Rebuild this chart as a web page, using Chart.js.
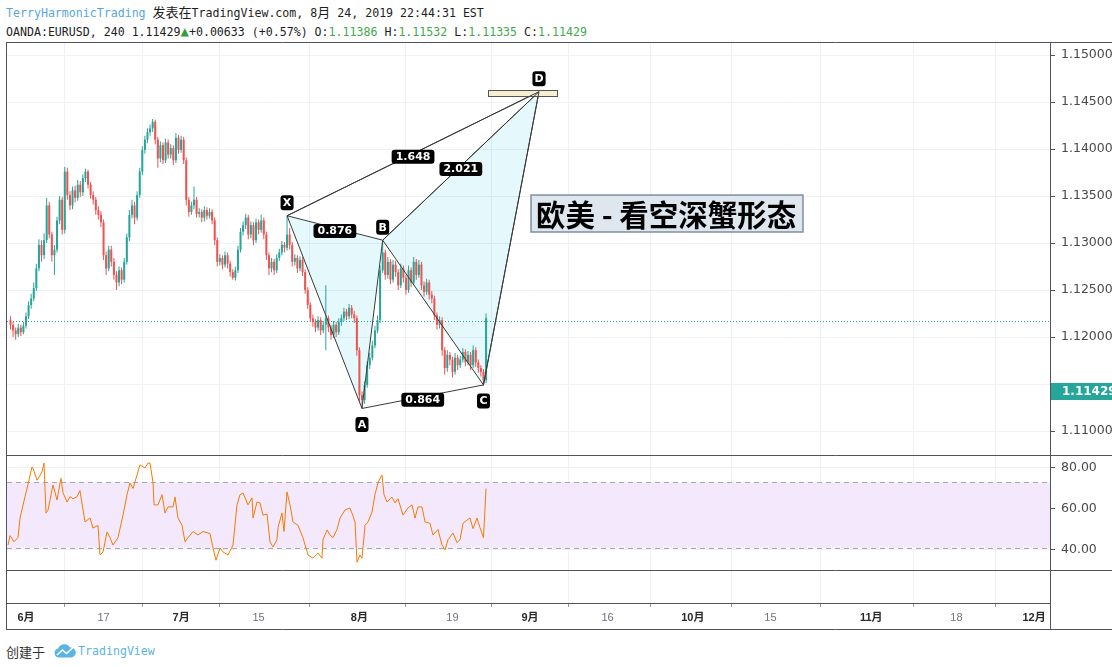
<!DOCTYPE html>
<html lang="zh">
<head>
<meta charset="utf-8">
<title>EURUSD 240 - harmonic</title>
<script src="https://cdn.jsdelivr.net/npm/chart.js@4/dist/chart.umd.min.js"></script>
<style>
  html, body { margin: 0; padding: 0; background: #fff; }
  body { position: relative; width: 1112px; height: 667px; overflow: hidden; }
  .mono {
    position: absolute; left: 6px; white-space: nowrap;
    font-family: "DejaVu Sans Mono", "Noto Sans CJK SC", monospace;
    font-size: 11.6px; line-height: 14px; color: #1e1e1e;
  }
  .mono .cjk { font-size: 13px; }
  #line1 { top: 6px; }
  #line2 { top: 24px; }
  .user { color: #5aa6dc; }
  .up   { color: #2e9e3e; font-size: 14px; }
  .val  { color: #43a84c; }
  #wrap { position: absolute; left: 0; top: 40px; width: 1112px; height: 592px; }
  #foot { position: absolute; left: 6px; top: 641px; height: 18px; white-space: nowrap; }
  #foot .made { font-family: "Noto Sans CJK SC", sans-serif; font-size: 13px; color: #333; vertical-align: middle; }
  #foot svg { vertical-align: middle; margin-left: 5px; }
  #foot .tv { font-family: "DejaVu Sans Mono", monospace; font-size: 11.6px; color: #5ab4e5; vertical-align: middle; margin-left: -2px; }
</style>
</head>
<body>
<div id="line1" class="mono"><span class="user">TerryHarmonicTrading</span> <span class="cjk">发表在</span>TradingView.com, 8<span class="cjk">月</span> 24, 2019 22:44:31 EST</div>
<div id="line2" class="mono">OANDA:EURUSD, 240 1.11429<span class="up">▲</span>+0.00633 (+0.57%) O:<span class="val">1.11386</span> H:<span class="val">1.11532</span> L:<span class="val">1.11335</span> C:<span class="val">1.11429</span></div>
<div id="wrap"><canvas id="chart"></canvas></div>
<div id="foot">
  <span class="made">创建于</span>
  <svg width="22" height="14" viewBox="0 0 22 14">
    <path d="M5 13.5 A4.5 4.5 0 0 1 4.2 4.6 A6.5 6.5 0 0 1 16 3.6 A5 5 0 0 1 17.5 13.5 Z" fill="#5ab4e5"/>
    <path d="M3 11 L8.5 6 L12.5 9.5 L19 3.5" stroke="#fff" stroke-width="1.6" fill="none"/>
  </svg>
  <span class="tv">TradingView</span>
</div>

<script>
/* ── Price data (4h bars grouped by thirds of a trading day) ───────── */
var candleStart = -2.0;      // trading-day index, 0 = 3 June 2019
var candleStep  = 1 / 3;
var firstOpen   = 1.1218;

var closes = [
  1.1213, 1.1207, 1.1203, 1.1210, 1.1205, 1.1212, 1.1222, 1.1234, 1.1241, 1.1252,
  1.1273, 1.1298, 1.1287, 1.1303, 1.1340, 1.1309, 1.1287, 1.1293, 1.1324, 1.1346,
  1.1314, 1.1376, 1.1351, 1.1340, 1.1356, 1.1348, 1.1362, 1.1354, 1.1369, 1.1376,
  1.1362, 1.1351, 1.1346, 1.1335, 1.1330, 1.1322, 1.1287, 1.1273, 1.1293, 1.1280,
  1.1266, 1.1258, 1.1271, 1.1261, 1.1280, 1.1306, 1.1330, 1.1340, 1.1327, 1.1351,
  1.1376, 1.1399, 1.1410, 1.1418, 1.1422, 1.1429, 1.1410, 1.1390, 1.1404, 1.1388,
  1.1407, 1.1394, 1.1401, 1.1388, 1.1412, 1.1399, 1.1410, 1.1388, 1.1346, 1.1333,
  1.1340, 1.1346, 1.1331, 1.1333, 1.1327, 1.1335, 1.1329, 1.1333, 1.1324, 1.1303,
  1.1280, 1.1284, 1.1277, 1.1287, 1.1278, 1.1269, 1.1263, 1.1271, 1.1293, 1.1312,
  1.1319, 1.1327, 1.1309, 1.1319, 1.1303, 1.1322, 1.1314, 1.1324, 1.1309, 1.1287,
  1.1273, 1.1280, 1.1271, 1.1284, 1.1290, 1.1298, 1.1295, 1.1309, 1.1298, 1.1280,
  1.1284, 1.1273, 1.1282, 1.1269, 1.1250, 1.1234, 1.1220, 1.1216, 1.1210, 1.1218,
  1.1207, 1.1213, 1.1220, 1.1210, 1.1202, 1.1213, 1.1205, 1.1216, 1.1220, 1.1227,
  1.1222, 1.1231, 1.1224, 1.1220, 1.1186, 1.1138, 1.1133, 1.1149, 1.1170, 1.1178,
  1.1191, 1.1207, 1.1218, 1.1271, 1.1290, 1.1266, 1.1280, 1.1261, 1.1277, 1.1269,
  1.1255, 1.1273, 1.1263, 1.1250, 1.1271, 1.1258, 1.1280, 1.1266, 1.1277, 1.1255,
  1.1248, 1.1258, 1.1245, 1.1241, 1.1223, 1.1213, 1.1218, 1.1186, 1.1167, 1.1181,
  1.1176, 1.1163, 1.1178, 1.1170, 1.1176, 1.1184, 1.1173, 1.1181, 1.1170, 1.1186,
  1.1173, 1.1167, 1.1163, 1.1154, 1.1220
];
var highs = [
  1.1222, 1.1216, 1.1210, 1.1214, 1.1213, 1.1216, 1.1226, 1.1238, 1.1246, 1.1258,
  1.1278, 1.1304, 1.1303, 1.1310, 1.1348, 1.1344, 1.1312, 1.1298, 1.1328, 1.1350,
  1.1349, 1.1381, 1.1380, 1.1355, 1.1360, 1.1361, 1.1367, 1.1366, 1.1373, 1.1379,
  1.1378, 1.1365, 1.1355, 1.1349, 1.1339, 1.1334, 1.1325, 1.1291, 1.1297, 1.1297,
  1.1284, 1.1270, 1.1275, 1.1274, 1.1284, 1.1310, 1.1335, 1.1346, 1.1344, 1.1355,
  1.1380, 1.1403, 1.1414, 1.1422, 1.1426, 1.1432, 1.1431, 1.1413, 1.1408, 1.1407,
  1.1411, 1.1410, 1.1405, 1.1404, 1.1417, 1.1415, 1.1414, 1.1413, 1.1391, 1.1349,
  1.1344, 1.1360, 1.1349, 1.1337, 1.1336, 1.1339, 1.1338, 1.1337, 1.1336, 1.1327,
  1.1306, 1.1288, 1.1287, 1.1291, 1.1290, 1.1281, 1.1272, 1.1275, 1.1297, 1.1316,
  1.1323, 1.1331, 1.1330, 1.1323, 1.1322, 1.1326, 1.1325, 1.1330, 1.1327, 1.1312,
  1.1290, 1.1284, 1.1283, 1.1288, 1.1294, 1.1302, 1.1301, 1.1329, 1.1316, 1.1301,
  1.1288, 1.1287, 1.1286, 1.1285, 1.1272, 1.1253, 1.1237, 1.1224, 1.1219, 1.1222,
  1.1221, 1.1217, 1.1255, 1.1223, 1.1213, 1.1217, 1.1216, 1.1220, 1.1224, 1.1231,
  1.1230, 1.1235, 1.1234, 1.1228, 1.1223, 1.1189, 1.1142, 1.1153, 1.1174, 1.1183,
  1.1196, 1.1212, 1.1223, 1.1276, 1.1303, 1.1293, 1.1285, 1.1283, 1.1282, 1.1281,
  1.1272, 1.1278, 1.1276, 1.1266, 1.1276, 1.1274, 1.1285, 1.1283, 1.1282, 1.1280,
  1.1259, 1.1262, 1.1261, 1.1249, 1.1244, 1.1226, 1.1222, 1.1221, 1.1189, 1.1186,
  1.1184, 1.1179, 1.1183, 1.1181, 1.1180, 1.1188, 1.1187, 1.1185, 1.1184, 1.1191,
  1.1189, 1.1176, 1.1170, 1.1166, 1.1225
];
var lows = [
  1.1208, 1.1200, 1.1197, 1.1200, 1.1201, 1.1203, 1.1209, 1.1219, 1.1230, 1.1238,
  1.1249, 1.1270, 1.1280, 1.1283, 1.1300, 1.1305, 1.1280, 1.1266, 1.1290, 1.1320,
  1.1309, 1.1310, 1.1346, 1.1335, 1.1336, 1.1343, 1.1345, 1.1349, 1.1350, 1.1365,
  1.1358, 1.1347, 1.1341, 1.1330, 1.1325, 1.1317, 1.1282, 1.1266, 1.1270, 1.1275,
  1.1261, 1.1250, 1.1254, 1.1256, 1.1258, 1.1277, 1.1302, 1.1326, 1.1320, 1.1324,
  1.1348, 1.1372, 1.1395, 1.1406, 1.1414, 1.1418, 1.1405, 1.1380, 1.1386, 1.1384,
  1.1385, 1.1390, 1.1390, 1.1383, 1.1385, 1.1395, 1.1396, 1.1384, 1.1340, 1.1328,
  1.1330, 1.1336, 1.1327, 1.1327, 1.1322, 1.1323, 1.1325, 1.1326, 1.1320, 1.1298,
  1.1275, 1.1276, 1.1272, 1.1274, 1.1273, 1.1264, 1.1261, 1.1260, 1.1268, 1.1290,
  1.1308, 1.1315, 1.1304, 1.1305, 1.1298, 1.1300, 1.1309, 1.1311, 1.1304, 1.1282,
  1.1266, 1.1269, 1.1266, 1.1268, 1.1281, 1.1287, 1.1290, 1.1292, 1.1293, 1.1275,
  1.1276, 1.1268, 1.1270, 1.1265, 1.1246, 1.1230, 1.1216, 1.1211, 1.1205, 1.1207,
  1.1202, 1.1204, 1.1186, 1.1205, 1.1197, 1.1199, 1.1200, 1.1202, 1.1212, 1.1217,
  1.1218, 1.1219, 1.1220, 1.1215, 1.1180, 1.1132, 1.1124, 1.1129, 1.1146, 1.1166,
  1.1175, 1.1188, 1.1204, 1.1215, 1.1268, 1.1261, 1.1262, 1.1256, 1.1258, 1.1264,
  1.1250, 1.1252, 1.1258, 1.1245, 1.1247, 1.1253, 1.1255, 1.1261, 1.1263, 1.1250,
  1.1243, 1.1245, 1.1240, 1.1236, 1.1218, 1.1208, 1.1209, 1.1180, 1.1160, 1.1163,
  1.1170, 1.1157, 1.1160, 1.1165, 1.1167, 1.1173, 1.1169, 1.1170, 1.1165, 1.1167,
  1.1168, 1.1162, 1.1158, 1.1148, 1.1151
];

/* ── RSI pane ──────────────────────────────────────────────────────── */
var rsiT = [
  -2.32, -2.06, -1.55, -1.03, -0.77, -0.13, 0.26, 0.77, 0.90, 1.42, 2.06, 2.32, 2.58, 2.84,
  3.48, 4.00, 4.51, 4.77, 5.29, 5.67, 6.06, 6.58, 6.96, 7.61, 8.25, 8.64, 9.29, 9.54, 9.93,
  10.45, 10.83, 11.22, 11.86, 12.51, 13.03, 13.41, 13.80, 14.32, 14.70, 15.35, 15.73, 15.99,
  16.38, 16.51, 17.02, 17.54, 17.93, 18.31, 18.96, 19.22, 19.60, 20.12, 20.51, 20.89, 21.54,
  22.18, 22.83, 23.73, 24.12, 24.50, 25.02, 25.41, 26.05, 26.70, 27.21, 27.60, 27.99, 28.63,
  29.15, 29.28, 29.79, 30.18, 30.56, 31.08, 31.47, 31.85, 32.37, 32.50, 33.01, 33.27, 33.66,
  34.05, 34.43, 35.08, 35.72, 36.37, 37.01, 37.66, 38.17, 38.30, 38.82, 39.21, 39.59, 40.11,
  40.50, 41.14, 41.78, 42.17, 42.43, 42.69, 43.07, 43.33, 43.72, 44.11, 44.62, 45.01, 45.40,
  45.91, 46.17, 46.56, 47.20, 47.59, 47.98, 48.62, 49.26, 49.78, 50.17, 50.55, 51.07, 51.46,
  52.10, 52.49, 53.13, 53.65, 54.04, 54.42, 55.07, 55.58, 55.97, 56.36, 56.87, 57.26, 57.65,
  58.16, 58.54, 59.00, 59.33
];
var rsiV = [
  42.4, 47, 44, 46, 55.6, 66, 72, 80.5, 80, 74, 78, 82.4, 58, 59.5,
  71.7, 64.4, 75, 68, 63.4, 66, 65, 66, 69, 53.7, 55.6, 50.7, 52, 37.6, 39,
  48.8, 46, 42.4, 46, 57, 67, 72.7, 70, 76.6, 81.5, 80, 82.4, 82.4,
  73, 62, 62, 67, 58, 61, 61, 65.8, 55.6, 52, 44, 46, 49,
  47.3, 49, 48, 41, 35, 41, 39, 37.6, 42.4, 62, 67, 67.8, 62,
  65.4, 55.6, 63.4, 63, 57, 57.5, 44, 41.5, 45, 51, 58, 49, 68.3,
  62, 53.7, 52, 46, 37.6, 36, 38.5, 36, 45, 49.8, 47.3, 46, 50,
  55.6, 59.5, 60.5, 56.6, 53.7, 34, 37.6, 36, 52, 53.7, 58.5, 67, 73,
  76.6, 67, 63.4, 65.8, 63, 65, 57, 60.5, 62, 55.6, 61, 61, 53.7,
  53, 47.3, 50, 42.4, 40, 45, 48.3, 43.6, 45, 53, 54.6, 55.6, 50.4,
  55.6, 51, 46, 70
];
var rsiBand = [41, 73];

/* ── Axes ──────────────────────────────────────────────────────────── */
var tickDays   = [0, 10, 20, 30, 43, 55, 65, 75, 86, 96, 109, 120, 130];
var tickLabels = ['6月', '17', '7月', '15', '8月', '19', '9月', '16', '10月', '15', '11月', '18', '12月'];
var priceTicks = [1.110, 1.115, 1.120, 1.125, 1.130, 1.135, 1.140, 1.145, 1.150];
var rsiTicks   = [40, 60, 80];

/* ── Harmonic pattern (XABCD) ──────────────────────────────────────── */
var patternNames = ['X', 'A', 'B', 'C', 'D'];
var patternT     = [33.67, 43.33, 46.0, 59.0, 66.16];
var patternP     = [1.1329, 1.1124, 1.1303, 1.1149, 1.1461];
var ratioLegs    = [[0, 2], [1, 3], [2, 4], [0, 4]];
var ratioLabels  = ['0.876', '0.864', '2.021', '1.648'];

var dZone      = { t0: 59.58, t1: 68.48, hi: 1.14628, lo: 1.14564 };
var noteBox    = { t0: 65.13, t1: 100.2, hi: 1.1351, lo: 1.13117, text: '欧美 - 看空深蟹形态' };
var guideLevel = 1.1217;
var lastPrice  = 1.11429;
</script>

<script>
(function () {
  'use strict';

  var UP = '#26a69a', DOWN = '#ef5350', FRAME = '#50535e', GRID = '#eef1f6';

  /* ── Candles built from the arrays above ── */
  var candleT = closes.map(function (c, i) { return candleStart + i * candleStep; });
  var opens   = closes.map(function (c, i) { return i ? closes[i - 1] : firstOpen; });
  var colors  = closes.map(function (c, i) { return c >= opens[i] ? UP : DOWN; });

  function pt(i) { return { x: patternT[i], y: patternP[i] }; }
  function isMonth(i) { return (tickLabels[i] || '').indexOf('月') >= 0; }

  function lineSet(points) {
    return {
      type: 'line', yAxisID: 'y', data: points, order: 1,
      borderColor: '#3a3a3a', borderWidth: 1, pointRadius: 0, tension: 0
    };
  }

  var datasets = [
    {
      type: 'bar', yAxisID: 'y', order: 6, grouped: false,
      data: candleT.map(function (t, i) { return { x: t, y: [lows[i], highs[i]] }; }),
      backgroundColor: colors, barThickness: 1, inflateAmount: 0
    },
    {
      type: 'bar', yAxisID: 'y', order: 5, grouped: false,
      data: candleT.map(function (t, i) { return { x: t, y: [opens[i], closes[i]] }; }),
      backgroundColor: colors, barThickness: 2, minBarLength: 1, inflateAmount: 0
    },
    {
      type: 'line', yAxisID: 'rsi', order: 2,
      data: rsiT.map(function (t, i) { return { x: t, y: rsiV[i] }; }),
      borderColor: '#f57c00', borderWidth: 1, pointRadius: 0, tension: 0
    },
    lineSet([pt(0), pt(1), pt(2), pt(3), pt(4)])
  ];
  ratioLegs.forEach(function (leg) { datasets.push(lineSet([pt(leg[0]), pt(leg[1])])); });

  /* ── Helpers for the overlay ── */
  function rounded(ctx, x, y, w, h, r) {
    ctx.beginPath();
    ctx.moveTo(x + r, y);
    ctx.lineTo(x + w - r, y); ctx.quadraticCurveTo(x + w, y, x + w, y + r);
    ctx.lineTo(x + w, y + h - r); ctx.quadraticCurveTo(x + w, y + h, x + w - r, y + h);
    ctx.lineTo(x + r, y + h); ctx.quadraticCurveTo(x, y + h, x, y + h - r);
    ctx.lineTo(x, y + r); ctx.quadraticCurveTo(x, y, x + r, y);
    ctx.closePath();
  }

  function tag(ctx, text, cx, cy, padX, h) {
    ctx.font = 'bold 11px "DejaVu Sans", sans-serif';
    var w = Math.max(ctx.measureText(text).width + padX * 2, h - 2);
    rounded(ctx, cx - w / 2, cy - h / 2, w, h, 3);
    ctx.fillStyle = '#000';
    ctx.fill();
    ctx.fillStyle = '#fff';
    ctx.textAlign = 'center';
    ctx.textBaseline = 'middle';
    ctx.fillText(text, cx, cy + 0.5);
  }

  var overlay = {
    id: 'overlay',
    beforeDatasetsDraw: function (chart) {
      var ctx = chart.ctx, ca = chart.chartArea;
      var sx = chart.scales.x, sy = chart.scales.y, sr = chart.scales.rsi;
      ctx.save();

      // RSI band
      var bTop = sr.getPixelForValue(rsiBand[1]), bBot = sr.getPixelForValue(rsiBand[0]);
      ctx.fillStyle = '#f4e8fd';
      ctx.fillRect(ca.left, bTop, ca.right - ca.left, bBot - bTop);
      ctx.strokeStyle = '#a9a4b6';
      ctx.lineWidth = 1;
      ctx.setLineDash([5, 4]);
      [bTop, bBot].forEach(function (yy) {
        ctx.beginPath();
        ctx.moveTo(ca.left, Math.round(yy) + 0.5);
        ctx.lineTo(ca.right, Math.round(yy) + 0.5);
        ctx.stroke();
      });

      // dotted guide level
      ctx.strokeStyle = UP;
      ctx.setLineDash([1, 2]);
      var gy = Math.round(sy.getPixelForValue(guideLevel)) + 0.5;
      ctx.beginPath();
      ctx.moveTo(ca.left, gy);
      ctx.lineTo(ca.right, gy);
      ctx.stroke();
      ctx.setLineDash([]);

      // XAB and BCD triangles
      ctx.fillStyle = 'rgba(0, 188, 212, 0.10)';
      [[0, 1, 2], [2, 3, 4]].forEach(function (tri) {
        ctx.beginPath();
        tri.forEach(function (k, j) {
          var x = sx.getPixelForValue(patternT[k]), y = sy.getPixelForValue(patternP[k]);
          if (j) ctx.lineTo(x, y); else ctx.moveTo(x, y);
        });
        ctx.closePath();
        ctx.fill();
      });
      ctx.restore();
    },

    afterDatasetsDraw: function (chart) {
      var ctx = chart.ctx;
      var sx = chart.scales.x, sy = chart.scales.y;
      ctx.save();

      // D zone
      var zx0 = sx.getPixelForValue(dZone.t0), zx1 = sx.getPixelForValue(dZone.t1);
      var zy0 = sy.getPixelForValue(dZone.hi), zy1 = sy.getPixelForValue(dZone.lo);
      ctx.fillStyle = '#f7efd2';
      ctx.fillRect(zx0, zy0, zx1 - zx0, zy1 - zy0);
      ctx.strokeStyle = '#555';
      ctx.lineWidth = 1;
      ctx.strokeRect(Math.round(zx0) + 0.5, Math.round(zy0) + 0.5, Math.round(zx1 - zx0), Math.round(zy1 - zy0));
      // the three legs into D again, over the zone
      ctx.strokeStyle = '#3a3a3a';
      ctx.beginPath();
      [0, 2, 3].forEach(function (k) {
        ctx.moveTo(sx.getPixelForValue(patternT[k]), sy.getPixelForValue(patternP[k]));
        ctx.lineTo(sx.getPixelForValue(patternT[4]), sy.getPixelForValue(patternP[4]));
      });
      ctx.stroke();

      // ratio tags on the legs
      ratioLegs.forEach(function (leg, i) {
        var mx = (sx.getPixelForValue(patternT[leg[0]]) + sx.getPixelForValue(patternT[leg[1]])) / 2;
        var my = (sy.getPixelForValue(patternP[leg[0]]) + sy.getPixelForValue(patternP[leg[1]])) / 2;
        tag(ctx, ratioLabels[i], mx, my + 3, 4, 14);
      });

      // point letters: X, B, D above; A, C below
      var below = [false, true, false, true, false];
      patternNames.forEach(function (name, i) {
        var x = sx.getPixelForValue(patternT[i]), y = sy.getPixelForValue(patternP[i]);
        tag(ctx, name, x, below[i] ? y + 16 : y - 13, 2, 15);
      });

      // note box
      var nx0 = sx.getPixelForValue(noteBox.t0), nx1 = sx.getPixelForValue(noteBox.t1);
      var ny0 = sy.getPixelForValue(noteBox.hi), ny1 = sy.getPixelForValue(noteBox.lo);
      ctx.fillStyle = '#dee6ee';
      ctx.fillRect(nx0, ny0, nx1 - nx0, ny1 - ny0);
      ctx.strokeStyle = '#7d8fa3';
      ctx.lineWidth = 1.5;
      ctx.strokeRect(nx0, ny0, nx1 - nx0, ny1 - ny0);
      ctx.fillStyle = '#000';
      ctx.font = 'bold 29.5px "Noto Sans CJK SC", sans-serif';
      ctx.textAlign = 'left';
      ctx.textBaseline = 'middle';
      ctx.fillText(noteBox.text, nx0 + 5, (ny0 + ny1) / 2 + 1);
      ctx.restore();
    },

    afterDraw: function (chart) {
      var ctx = chart.ctx, ca = chart.chartArea, W = chart.width;
      var sx = chart.scales.x, sy = chart.scales.y;
      ctx.save();
      ctx.strokeStyle = FRAME;
      ctx.lineWidth = 1;
      ctx.beginPath();
      [ca.top - 0.5, Math.round(chart.scales.rsi.top) + 0.5,
       Math.round(chart.scales.pad.top) + 0.5, Math.round(sx.bottom) - 0.5].forEach(function (yy) {
        ctx.moveTo(6, yy);
        ctx.lineTo(W, yy);
      });
      ctx.moveTo(6.5, ca.top - 0.5);
      ctx.lineTo(6.5, sx.bottom);
      ctx.moveTo(Math.round(ca.right) + 0.5, ca.top - 0.5);
      ctx.lineTo(Math.round(ca.right) + 0.5, sx.bottom);
      ctx.stroke();

      // last price tag
      var ty = Math.round(sy.getPixelForValue(lastPrice));
      ctx.fillStyle = UP;
      ctx.fillRect(ca.right + 1, ty - 8, W - ca.right, 17);
      ctx.fillStyle = '#fff';
      ctx.font = 'bold 12px "DejaVu Sans", sans-serif';
      ctx.textAlign = 'left';
      ctx.textBaseline = 'middle';
      ctx.fillText(lastPrice.toFixed(5), ca.right + 12, ty + 0.5);
      ctx.restore();
    }
  };

  // fixed axis boxes, no extra label padding pushed into the layout
  function fixWidth(scale) {
    scale.width = 62;
    scale.paddingTop = 0;
    scale.paddingBottom = 0;
  }

  Chart.defaults.font.family = '"DejaVu Sans", "Noto Sans CJK SC", sans-serif';

  new Chart(document.getElementById('chart'), {
    type: 'bar',
    data: { datasets: datasets },
    options: {
      responsive: true,
      maintainAspectRatio: false,
      animation: false,
      events: [],
      layout: { padding: { left: 7, top: 3, right: 0, bottom: 2 } },
      plugins: { legend: { display: false }, tooltip: { enabled: false } },
      scales: {
        x: {
          type: 'linear', position: 'bottom', offset: false,
          min: -2.45, max: 132.06,
          grid: { color: GRID, tickColor: '#9a9a9a', tickLength: 4 },
          border: { color: FRAME },
          afterBuildTicks: function (s) {
            s.ticks = tickDays.map(function (v) { return { value: v }; });
          },
          afterFit: function (s) {
            s.height = 27;
            s.paddingLeft = 0;
            s.paddingRight = 0;
          },
          ticks: {
            autoSkip: false, maxRotation: 0, padding: 4,
            callback: function (v, i) { return tickLabels[i]; },
            color: function (c) { return isMonth(c.index) ? '#2a2a2a' : '#6f7380'; },
            font: function (c) {
              return {
                family: '"Liberation Sans", "Noto Sans CJK SC", sans-serif',
                size: 11, weight: isMonth(c.index) ? 'bold' : 'normal'
              };
            }
          }
        },
        y: {
          type: 'linear', position: 'right', stack: 'panes', stackWeight: 412,
          min: 1.107447, max: 1.151277,
          grid: { color: GRID, tickColor: FRAME, tickLength: 5 },
          border: { color: FRAME },
          afterBuildTicks: function (s) {
            s.ticks = priceTicks.map(function (v) { return { value: v }; });
          },
          afterFit: fixWidth,
          ticks: {
            padding: 6, color: '#4a4a4a', font: { size: 12.5 },
            callback: function (v) { return Math.abs(v - 1.115) < 1e-6 ? '' : v.toFixed(5); }
          }
        },
        rsi: {
          type: 'linear', position: 'right', stack: 'panes', stackWeight: 115,
          min: 30.24, max: 86.34,
          grid: { color: GRID, tickColor: FRAME, tickLength: 5 },
          border: { color: FRAME },
          afterBuildTicks: function (s) {
            s.ticks = rsiTicks.map(function (v) { return { value: v }; });
          },
          afterFit: fixWidth,
          ticks: {
            padding: 6, color: '#4a4a4a', font: { size: 12.5 },
            callback: function (v) { return v.toFixed(2); }
          }
        },
        pad: {
          type: 'linear', position: 'right', stack: 'panes', stackWeight: 33,
          min: 0, max: 1,
          grid: { display: false },
          border: { color: FRAME },
          ticks: { display: false },
          afterFit: fixWidth
        }
      }
    },
    plugins: [overlay]
  });
})();
</script>
</body>
</html>
